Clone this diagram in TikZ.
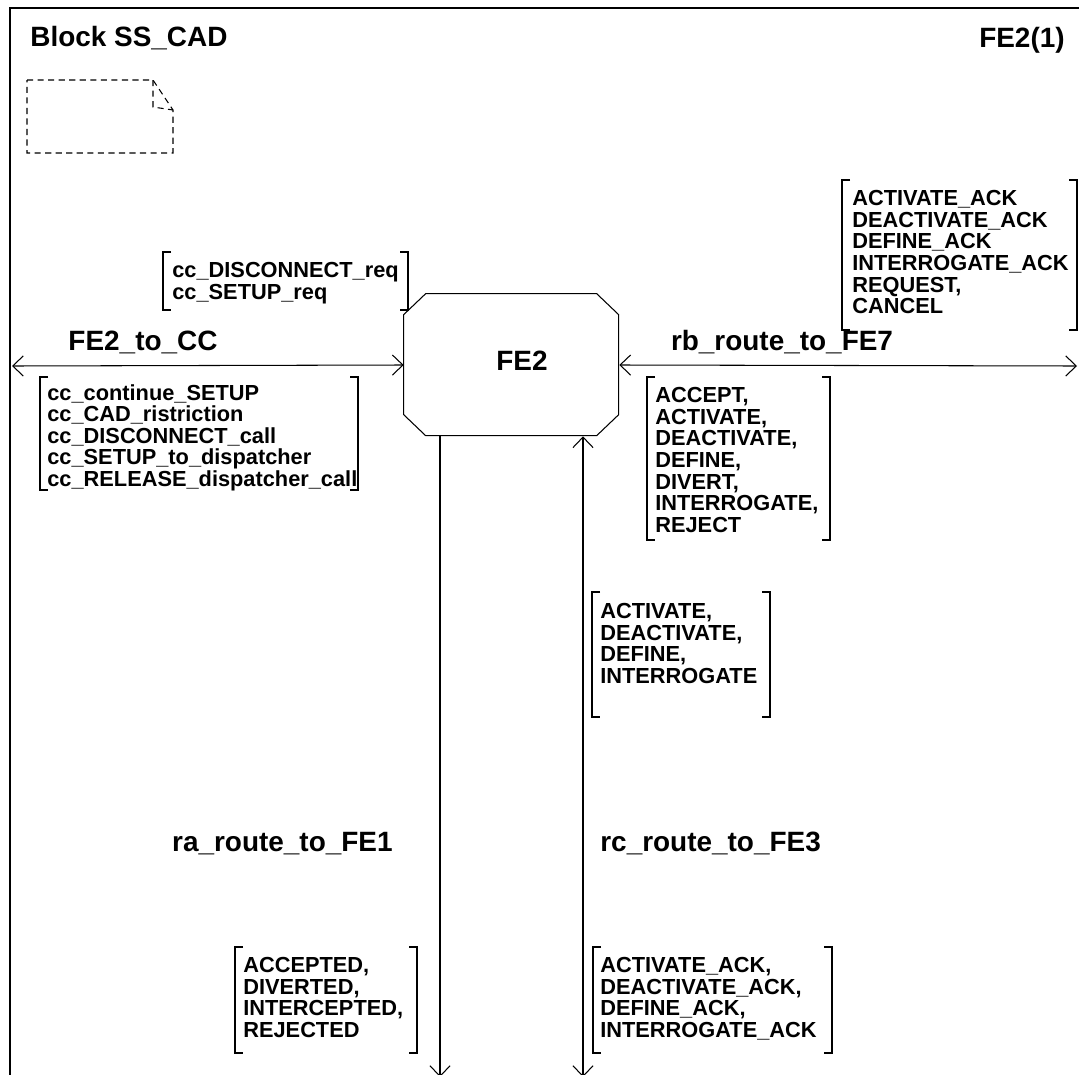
\documentclass[tikz,border=0pt]{standalone}
\usepackage{fontspec}
\setmainfont{Liberation Sans}
\usetikzlibrary{arrows.meta}

\begin{document}
\begin{tikzpicture}
 [
  x=0.02cm, y=-0.02cm,
  >={Straight Barb[length=6pt,width=11.5pt]},
  route/.style   = {line width=.6pt},
  bracket/.style = {line width=.7pt},
  title/.style   = {font=\fontsize{15.9}{18}\selectfont\bfseries, inner sep=0pt},
  signals/.style = {font=\fontsize{12.4}{12.3}\selectfont\bfseries, align=left, anchor=north west, inner sep=0pt},
  block/.style   = {rectangle, minimum width=4.3cm, minimum height=2.84cm, inner sep=0pt,
                    font=\fontsize{15.9}{18}\selectfont\bfseries},
 ]
 \def \tick {8}   % length of the bracket ends
 \def \cut {22}   % corner cut of the process symbol
 \useasboundingbox (0,0) rectangle (1079,1075);

 % frame and heading
 \draw[line width=.8pt] (1085,8) -| (10,1085);
 \node[title, anchor=base west] (blk)  at (30,47)   {Block SS\_CAD};
 \node[title, anchor=base east] (page) at (1065,48) {FE2(1)};

 % text symbol
 \draw[dash pattern=on 3.5pt off 2.5pt, line width=.6pt]
  (27,80) -- (153,80) -- (173,110) -- (173,153) -- (27,153) -- cycle;
 \draw[dash pattern=on 3.5pt off 2.5pt, line width=.6pt] (153,80) -- (153,107) -- (173,110);

 % process (text sits a little right of and above the middle)
 \node[block] (fe2) at (511.5,365) {\smash{\raisebox{-0.1cm}{\makebox[0pt]{\hspace{0.42cm}FE2}}}};
 \draw[route] (fe2.north west) ++(\cut,0) -- ++(171,0) -- ++(\cut,21) -- ++(0,100)
  -- ++(-\cut,21) -- ++(-171,0) -- ++(-\cut,-21) -- ++(0,-100) -- cycle;

 % route ends
 \coordinate (cc)  at (12,366);
 \coordinate (fe7) at (1077,366);
 \coordinate (fe1) at (440,1077);
 \coordinate (fe3) at (583,1077);

 \draw[route, <->] (cc) -- (fe2.west);
 \draw[route, <->] (fe2.east) -- (fe7);
 \draw[route, ->]  (fe2.south -| fe1) -- (fe1);
 \draw[route, <->] (fe2.south -| fe3) -- (fe3);

 \node[title, anchor=base]      (cclbl)  at (143,350) {FE2\_to\_CC};
 \node[title, anchor=base]      (fe7lbl) at (782,350) {rb\_route\_to\_FE7};
 \node[title, anchor=base east] (fe1lbl) at (393,851) {ra\_route\_to\_FE1};
 \node[title, anchor=base west] (fe3lbl) at (600,851) {rc\_route\_to\_FE3};

 % signal lists
 \foreach \xa/\ya/\xb/\yb in {163/252/408/310, 40/377/358/490, 842/180/1077/330,
                              647/377/830/540, 592/592/770/717, 235/947/417/1053, 593/947/832/1053}
 {
  \draw[bracket] (\xa+\tick,\ya) -- (\xa,\ya) -- (\xa,\yb) -- (\xa+\tick,\yb);
  \draw[bracket] (\xb-\tick,\ya) -- (\xb,\ya) -- (\xb,\yb) -- (\xb-\tick,\yb);
 }

 \node[signals] (reqsig) at (172,262) {cc\_DISCONNECT\_req\\cc\_SETUP\_req};
 \node[signals] (ccsig)  at (47,384)  {cc\_continue\_SETUP\\cc\_CAD\_ristriction\\cc\_DISCONNECT\_call\\
                                       cc\_SETUP\_to\_dispatcher\\cc\_RELEASE\_dispatcher\_call};
 \node[signals] (fe7in)  at (852,190) {ACTIVATE\_ACK\\DEACTIVATE\_ACK\\DEFINE\_ACK\\INTERROGATE\_ACK\\
                                       REQUEST,\\CANCEL};
 \node[signals] (fe7out) at (655,387) {ACCEPT,\\ACTIVATE,\\DEACTIVATE,\\DEFINE,\\DIVERT,\\
                                       INTERROGATE,\\REJECT};
 \node[signals] (fe3in)  at (600,603) {ACTIVATE,\\DEACTIVATE,\\DEFINE,\\INTERROGATE};
 \node[signals] (fe1sig) at (243,957) {ACCEPTED,\\DIVERTED,\\INTERCEPTED,\\REJECTED};
 \node[signals] (fe3out) at (600,957) {ACTIVATE\_ACK,\\DEACTIVATE\_ACK,\\DEFINE\_ACK,\\INTERROGATE\_ACK};
\end{tikzpicture}
\end{document}
